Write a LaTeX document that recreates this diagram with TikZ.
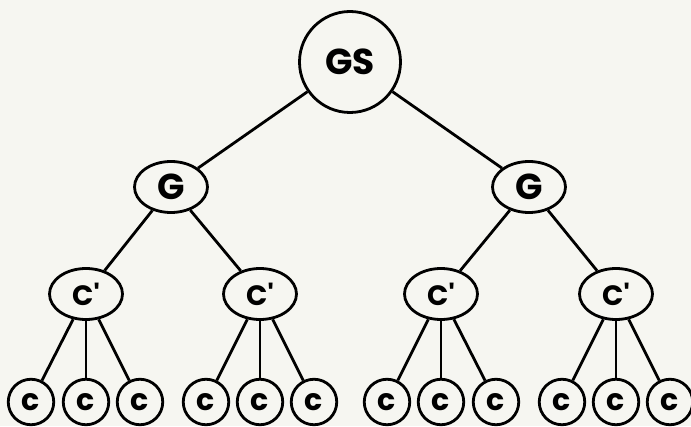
\documentclass[tikz,border=0pt]{standalone}
\usepackage{fontspec}
\setmainfont{Poppins}
\usetikzlibrary{shapes.geometric}
\definecolor{bgcol}{RGB}{246,246,241}
\begin{document}
\begin{tikzpicture}[x=1pt,y=1pt,
  edge/.style={line width=2.8pt, black},
  bignode/.style={circle, draw, line width=2.8pt, inner sep=0pt, minimum size=101pt,
    font=\fontsize{36}{36}\selectfont\bfseries},
  gnode/.style={ellipse, draw, line width=2.8pt, inner sep=0pt, minimum width=73pt, minimum height=51pt,
    font=\fontsize{36}{36}\selectfont\bfseries},
  cpnode/.style={ellipse, draw, line width=2.8pt, inner sep=0pt, minimum width=73pt, minimum height=51pt,
    font=\fontsize{28}{28}\selectfont\bfseries},
  cnode/.style={circle, draw, line width=2.8pt, inner sep=0pt, minimum size=45.5pt,
    font=\fontsize{30}{30}\selectfont\bfseries}]
\fill[bgcol] (0,0) rectangle (691,426);
\useasboundingbox (0,0) rectangle (691,426);
\node[bignode] (gs) at (350,364) {GS};
\node[gnode] (g1) at (171,239) {G};
\node[gnode] (g2) at (529,239) {G};
\node[cpnode] (p1) at (86,132) {C\textquotesingle};
\node[cpnode] (p2) at (260,132) {C\textquotesingle};
\node[cpnode] (p3) at (441,132) {C\textquotesingle};
\node[cpnode] (p4) at (616,132) {C\textquotesingle};
\foreach \n/\x in {a1/31,a2/86,a3/140,b1/206,b2/260,b3/314,c1/387,c2/441,c3/496,d1/562,d2/616,d3/670}{
  \node[cnode] (\n) at (\x,24) {c};
}
\draw[edge] (gs) -- (g1);
\draw[edge] (gs) -- (g2);
\draw[edge] (g1) -- (p1);
\draw[edge] (g1) -- (p2);
\draw[edge] (g2) -- (p3);
\draw[edge] (g2) -- (p4);
\foreach \p/\g in {p1/a,p2/b,p3/c,p4/d}{
  \draw[edge] (\p) -- (\g1);
  \draw[edge] (\p) -- (\g2);
  \draw[edge] (\p) -- (\g3);
}
\end{tikzpicture}
\end{document}
